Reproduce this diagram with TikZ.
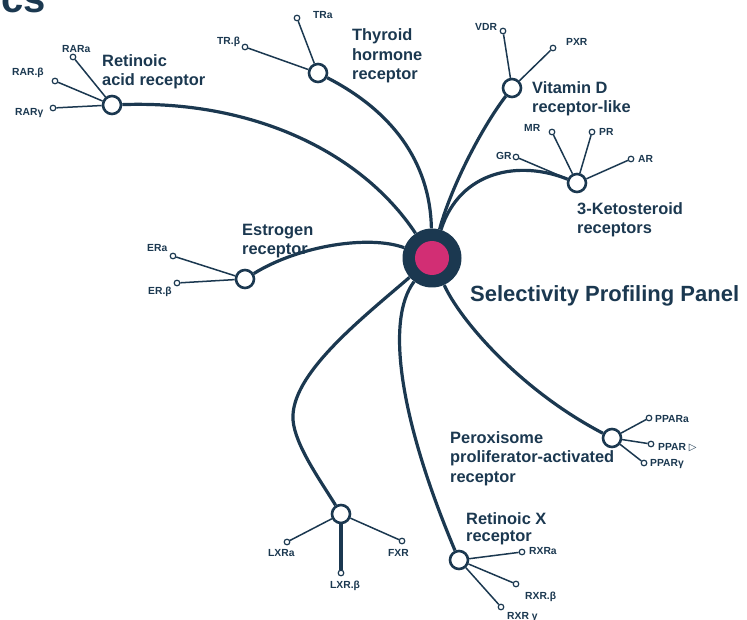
\documentclass[tikz,border=0pt]{standalone}
\usepackage{fontspec}
\setmainfont{Liberation Sans}
\definecolor{navy}{HTML}{1B3850}
\definecolor{magent}{HTML}{D22E74}
\tikzset{
  mainline/.style={draw=navy, line width=3.2pt},
  subline/.style={draw=navy, line width=1.5pt},
  hub/.style={circle, draw=navy, line width=2.6pt, fill=white, minimum size=18pt, inner sep=0pt},
  leaf/.style={circle, draw=navy, line width=1.2pt, fill=white, minimum size=5.6pt, inner sep=0pt},
  hublbl/.style={font=\bfseries\fontsize{16.4}{19.5}\selectfont, text=navy, inner sep=0pt, align=left, anchor=base west},
  leaflbl/.style={font=\bfseries\fontsize{10.3}{12}\selectfont, text=navy, inner sep=0pt, anchor=base west},
}
\begin{document}
\begin{tikzpicture}[x=1pt,y=-1pt]
\useasboundingbox (0,0) rectangle (747,620);
% cut-off title
\node[font=\bfseries\fontsize{40}{40}\selectfont, text=navy, inner sep=0pt, anchor=base east] (title) at (46,13) {cs};

% centre
\node[circle, fill=navy, minimum size=59pt, inner sep=0pt] (c) at (432,258) {};
\node[circle, fill=magent, minimum size=34pt, inner sep=0pt] (cin) at (432,258) {};

% hubs
\node[hub] (rar) at (112,105) {};
\node[hub] (tr) at (318,73) {};
\node[hub] (vd) at (512,88) {};
\node[hub] (ks) at (577,183) {};
\node[hub] (er) at (245,279) {};
\node[hub] (ppar) at (612,438) {};
\node[hub] (lxr) at (341,514) {};
\node[hub] (rxr) at (459,560) {};

% leaves
\node[leaf] (rara) at (73,57) {};
\node[leaf] (rarb) at (55,81) {};
\node[leaf] (rarg) at (53,108) {};
\node[leaf] (tra) at (297,18) {};
\node[leaf] (trb) at (245,47) {};
\node[leaf] (vdr) at (503,31) {};
\node[leaf] (pxr) at (553,48) {};
\node[leaf] (mr) at (552,132) {};
\node[leaf] (pr) at (592,132) {};
\node[leaf] (gr) at (516,157) {};
\node[leaf] (ar) at (631,159) {};
\node[leaf] (era) at (173,256) {};
\node[leaf] (erb) at (177,283) {};
\node[leaf] (ppa) at (649,418) {};
\node[leaf] (ppb) at (651,444) {};
\node[leaf] (ppg) at (644,463) {};
\node[leaf] (lxa) at (287,542) {};
\node[leaf] (lxb) at (341,573) {};
\node[leaf] (fxr) at (402,541) {};
\node[leaf] (rxa) at (522,552) {};
\node[leaf] (rxb) at (516,584) {};
\node[leaf] (rxg) at (501,607) {};

% main connectors
\draw[mainline] (c) .. controls (360,150) and (250,100) .. (rar);
\draw[mainline] (c) .. controls (430,160) and (390,110) .. (tr);
\draw[mainline] (c) .. controls (450,190) and (480,130) .. (vd);
\draw[mainline] (c) .. controls (460,170) and (520,160) .. (ks);
\draw[mainline] (c) .. controls (370,235) and (300,245) .. (er);
\draw[mainline] (c) .. controls (460,320) and (520,390) .. (ppar);
\draw[mainline] (c) .. controls (360,320) and (290,375) .. (293,420) coordinate (lxbend) .. controls (295,445) and (320,480) .. (lxr);
\draw[mainline] (c) .. controls (385,320) and (400,420) .. (rxr);

% sub connectors
\draw[subline] (rar) -- (rara);
\draw[subline] (rar) -- (rarb);
\draw[subline] (rar) -- (rarg);
\draw[subline] (tr) -- (tra);
\draw[subline] (tr) -- (trb);
\draw[subline] (vd) -- (vdr);
\draw[subline] (vd) -- (pxr);
\draw[subline] (ks) -- (mr);
\draw[subline] (ks) -- (pr);
\draw[subline] (ks) -- (gr);
\draw[subline] (ks) -- (ar);
\draw[subline] (er) -- (era);
\draw[subline] (er) -- (erb);
\draw[subline] (ppar) -- (ppa);
\draw[subline] (ppar) -- (ppb);
\draw[subline] (ppar) -- (ppg);
\draw[subline] (lxr) -- (lxa);
\draw[mainline] (lxr) -- (lxb);
\draw[subline] (lxr) -- (fxr);
\draw[subline] (rxr) -- (rxa);
\draw[subline] (rxr) -- (rxb);
\draw[subline] (rxr) -- (rxg);

% hub labels (anchor = baseline of the last line)
\node[hublbl] (lrar) at (102,86) {Retinoic\\acid receptor};
\node[hublbl] (ltr) at (352,80) {Thyroid\\hormone\\receptor};
\node[hublbl] (lvd) at (532,113) {Vitamin D\\receptor-like};
\node[hublbl] (lks) at (577,234) {3-Ketosteroid\\receptors};
\node[hublbl] (ler) at (242,255) {Estrogen\\receptor};
\node[hublbl] (lppar) at (450,482) {Peroxisome\\proliferator-activated\\receptor};
\node[hublbl, font=\bfseries\fontsize{16.4}{17}\selectfont] (lrxr) at (466,541) {Retinoic X\\receptor};
\node[font=\bfseries\fontsize{22}{26}\selectfont, text=navy, inner sep=0pt, anchor=base west] (lc) at (470,302) {Selectivity Profiling Panel};

% leaf labels
\node[leaflbl] at (62,53) {RARa};
\node[leaflbl] at (12,76) {RAR.β};
\node[leaflbl] at (15,116) {RARγ};
\node[leaflbl] at (313,19) {TRa};
\node[leaflbl] at (217,45) {TR.β};
\node[leaflbl] at (475,31) {VDR};
\node[leaflbl] at (566,46) {PXR};
\node[leaflbl] at (524,132) {MR};
\node[leaflbl] at (599,136) {PR};
\node[leaflbl] at (496,160) {GR};
\node[leaflbl] at (638,163) {AR};
\node[leaflbl] at (147,252) {ERa};
\node[leaflbl] at (148,295) {ER.β};
\node[leaflbl] at (655,422) {PPARa};
\node[leaflbl] at (658,450) {PPAR {\fontspec{DejaVu Sans}\bfseries\fontsize{10}{12}\selectfont ▷}};
\node[leaflbl] at (650,466) {PPARγ};
\node[leaflbl] at (268,556) {LXRa};
\node[leaflbl] at (330,588) {LXR.β};
\node[leaflbl] at (388,556) {FXR};
\node[leaflbl] at (529,554) {RXRa};
\node[leaflbl] at (525,599) {RXR.β};
\node[leaflbl] at (507,619) {RXR γ};
\end{tikzpicture}
\end{document}
